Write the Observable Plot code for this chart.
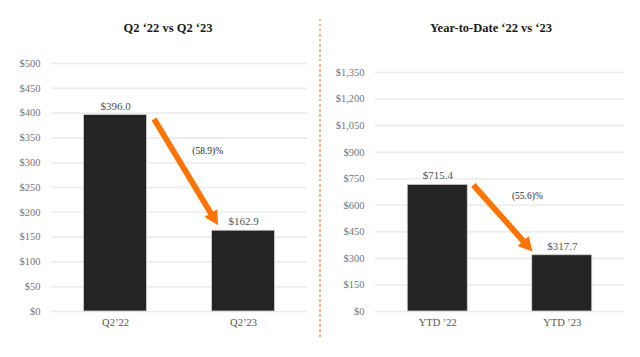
<!DOCTYPE html>
<html>
<head>
<meta charset="utf-8">
<script src="https://cdn.jsdelivr.net/npm/d3@7"></script>
<script src="https://cdn.jsdelivr.net/npm/@observablehq/plot@0.6"></script>
<style>
  html, body { margin: 0; padding: 0; background: #fff; }
  #page { position: relative; width: 640px; height: 357px; overflow: hidden; font-family: "Liberation Serif", "DejaVu Serif", serif; }
  .title { position: absolute; top: 21px; text-align: center; font-weight: bold; font-size: 12.5px; color: #1a1a1a; }
  .chart { position: absolute; top: 40px; }
  .divider { position: absolute; left: 319px; top: 19px; width: 2px; height: 318px;
             background: repeating-linear-gradient(to bottom, #f8b48a 0 2.5px, transparent 2.5px 5px); }
</style>
</head>
<body>
<div id="page">
  <div class="title" style="left:0;width:336px">Q2 ‘22 vs Q2 ‘23</div>
  <div class="title" style="left:320px;width:342px">Year-to-Date ‘22 vs ‘23</div>
  <div class="divider"></div>
  <div class="chart" id="left" style="left:0"></div>
  <div class="chart" id="right" style="left:320px"></div>
</div>
<script>
// Quarter comparison
const quarterCategories = ["Q2’22", "Q2’23"];
const quarterValues = [396.0, 162.9];
const quarterTicks = [0, 50, 100, 150, 200, 250, 300, 350, 400, 450, 500];
const quarterChange = "(58.9)%";
// arrow and its label, in chart units [position, value]
const quarterArrowFrom = [0.305, 387];
const quarterArrowTo = [0.805, 173];
const quarterChangeAt = [0.72, 323];

// Year-to-date comparison
const ytdCategories = ["YTD ’22", "YTD ’23"];
const ytdValues = [715.4, 317.7];
const ytdTicks = [0, 150, 300, 450, 600, 750, 900, 1050, 1200, 1350];
const ytdChange = "(55.6)%";
const ytdArrowFrom = [0.29, 712];
const ytdArrowTo = [0.765, 336];
const ytdChangeAt = [0.72, 655];

const money = d3.format("$,");
const moneyLabel = d3.format("$,.1f");

// Thick arrow with a filled triangular head, positioned through the plot's scales
function fatArrow(from, to, {color = "#ff7400", shaft = 5.8, headLength = 14, headWidth = 15} = {}) {
  return Plot.link([{}], {
    x1: () => from[0], y1: () => from[1], x2: () => to[0], y2: () => to[1],
    render(index, scales) {
      const x1 = scales.x(from[0]), y1 = scales.y(from[1]);
      const x2 = scales.x(to[0]), y2 = scales.y(to[1]);
      const len = Math.hypot(x2 - x1, y2 - y1);
      const ux = (x2 - x1) / len, uy = (y2 - y1) / len;
      const bx = x2 - ux * headLength, by = y2 - uy * headLength;
      const px = -uy * headWidth / 2, py = ux * headWidth / 2;
      const g = d3.create("svg:g");
      g.append("line")
        .attr("x1", x1).attr("y1", y1).attr("x2", bx + ux).attr("y2", by + uy)
        .attr("stroke", color).attr("stroke-width", shaft);
      g.append("path")
        .attr("d", `M${x2},${y2}L${bx + px},${by + py}L${bx - px},${by - py}Z`)
        .attr("fill", color);
      return g.node();
    }
  });
}

function panel({categories, values, ticks, change, arrowFrom, arrowTo, changeAt, marginLeft, marginRight, marginTop, halfWidth}) {
  const rows = categories.map((c, i) => ({i, category: c, value: values[i]}));
  return Plot.plot({
    width: 320,
    height: 300,
    marginLeft, marginRight, marginTop,
    marginBottom: 29,
    style: {fontFamily: "'Liberation Serif', 'DejaVu Serif', serif", fontSize: "10.5px", background: "transparent"},
    x: {domain: [-0.5, 1.5], label: null},
    y: {domain: [0, ticks[ticks.length - 1]], label: null},
    marks: [
      Plot.ruleY(ticks, {stroke: "#ececec", strokeWidth: 1.6}),
      Plot.axisY({ticks, tickFormat: money, tickSize: 0, tickPadding: 11, color: "#757575", label: null}),
      Plot.axisX({ticks: [0, 1], tickFormat: (d) => categories[d], tickSize: 0, tickPadding: 7, color: "#555", label: null}),
      Plot.rectY(rows, {x1: (d) => d.i - halfWidth, x2: (d) => d.i + halfWidth, y1: 0, y2: "value", fill: "#242424", stroke: "#d0d0d0", strokeWidth: 0.8}),
      Plot.text(rows, {x: "i", y: "value", text: (d) => moneyLabel(d.value), dy: -9, fill: "#555", fontSize: 11}),
      fatArrow(arrowFrom, arrowTo),
      Plot.text([change], {x: () => changeAt[0], y: () => changeAt[1], text: (d) => d, fill: "#2b2b2b", fontSize: 9.5})
    ]
  });
}

document.getElementById("left").append(panel({
  categories: quarterCategories, values: quarterValues, ticks: quarterTicks, change: quarterChange,
  arrowFrom: quarterArrowFrom, arrowTo: quarterArrowTo, changeAt: quarterChangeAt,
  marginLeft: 51, marginRight: 13, marginTop: 23, halfWidth: 0.246
}));
document.getElementById("right").append(panel({
  categories: ytdCategories, values: ytdValues, ticks: ytdTicks, change: ytdChange,
  arrowFrom: ytdArrowFrom, arrowTo: ytdArrowTo, changeAt: ytdChangeAt,
  marginLeft: 55, marginRight: 16, marginTop: 32, halfWidth: 0.241
}));
</script>
</body>
</html>
